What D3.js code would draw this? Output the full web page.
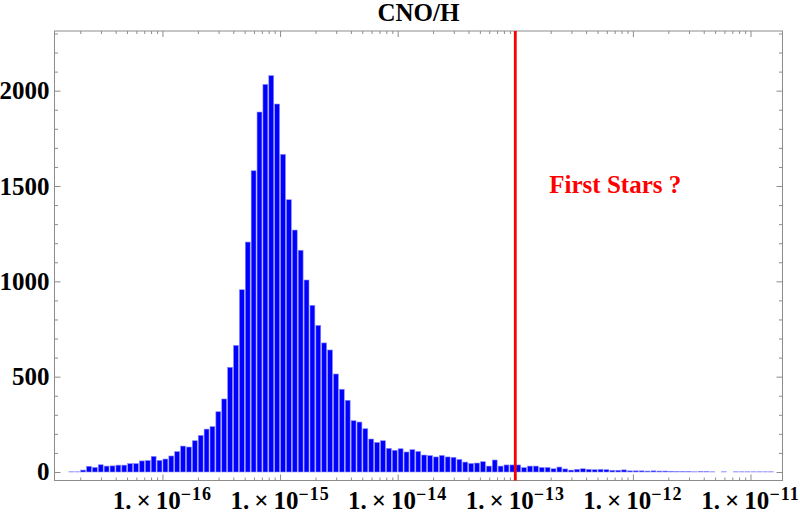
<!DOCTYPE html>
<html lang="en">
<head>
  <meta charset="UTF-8">
  <title>CNO/H</title>
  <script src="https://d3js.org/d3.v7.min.js"></script>
  <style>
    body {
      margin: 0;
      background: white;
    }
    svg text {
      font-family: "Liberation Serif", "Times New Roman", serif;
      font-weight: bold;
    }
    .axis path.domain {
      display: none;
    }
    .axis line {
      stroke: #8c8c8c;
    }
  </style>
</head>
<body>
  <div id="chart"></div>

  <script>
    // histogram bins: log10 of the left edge of the first bin, and the bin width (in decades)
    const binStartExp = -16.8;
    const binWidthExp = 0.05;

    // counts per bin
    const counts = [
      1, 1, 10, 30, 24, 38, 31, 32, 36, 36,
      44, 44, 58, 60, 82, 61, 68, 84, 107, 136,
      131, 164, 192, 225, 238, 316, 383, 549, 664, 956,
      1206, 1580, 1888, 2033, 2079, 1930, 1666, 1428, 1269, 1163,
      1007, 874, 769, 677, 640, 514, 434, 376, 269, 262,
      227, 173, 155, 164, 124, 114, 122, 105, 117, 108,
      89, 86, 79, 87, 79, 77, 66, 52, 45, 47,
      54, 31, 63, 31, 37, 37, 37, 23, 31, 31,
      24, 24, 17, 26, 16, 10, 14, 17, 14, 12,
      14, 12, 9, 9, 11, 6, 6, 6, 5, 6,
      5, 5, 4, 3, 3, 3, 1, 2, 2, 1,
      0, 1, 0, 1, 1, 1, 1, 1, 1, 1
    ];

    const xTickExps = [-16, -15, -14, -13, -12, -11];
    const yTicks = [0, 500, 1000, 1500, 2000];
    const firstStarsLimit = 1e-13;
    const titleText = "CNO/H";
    const noteText = "First Stars ?";

    const width = 800, height = 516;
    const plotLeft = 54.5, plotRight = 782.5, plotTop = 31, plotBottom = 480.5;

    const svg = d3.select("#chart").append("svg")
        .attr("width", width)
        .attr("height", height);

    const x = d3.scaleLog()
        .domain([Math.pow(10, -16.918), Math.pow(10, -10.728)])
        .range([plotLeft, plotRight]);

    const y = d3.scaleLinear()
        .domain([-44.6, 2313])
        .range([plotBottom, plotTop]);

    const bins = counts.map((c, i) => ({
      x0: Math.pow(10, binStartExp + i * binWidthExp),
      x1: Math.pow(10, binStartExp + (i + 1) * binWidthExp),
      count: c
    }));

    // bars
    svg.append("g")
      .selectAll("rect")
      .data(bins)
      .join("rect")
        .attr("x", d => x(d.x0) + 0.5)
        .attr("width", d => x(d.x1) - x(d.x0) - 1)
        .attr("y", d => y(d.count))
        .attr("height", d => y(0) - y(d.count))
        .attr("fill", "#0000ff")
        .attr("stroke", "#8a8aff")
        .attr("stroke-width", 0.6);

    // frame
    svg.append("rect")
      .attr("x", plotLeft)
      .attr("y", plotTop)
      .attr("width", plotRight - plotLeft)
      .attr("height", plotBottom - plotTop)
      .attr("fill", "none")
      .attr("stroke", "#8c8c8c")
      .attr("stroke-width", 1);

    // ticks (inside the frame, all four sides)
    const majorX = xTickExps.map(e => Math.pow(10, e));
    const minorX = [];
    for (let e = -17; e <= -11; e++) {
      for (let m = 2; m <= 9; m++) {
        const v = m * Math.pow(10, e);
        if (v > x.domain()[0] && v < x.domain()[1]) minorX.push(v);
      }
    }
    const minorY = d3.range(100, 2400, 100).filter(v => v % 500 !== 0);

    svg.append("g").attr("class", "axis")
      .attr("transform", `translate(0,${plotBottom})`)
      .call(d3.axisBottom(x).tickValues(majorX).tickSize(-6).tickFormat(""));
    svg.append("g").attr("class", "axis")
      .attr("transform", `translate(0,${plotBottom})`)
      .call(d3.axisBottom(x).tickValues(minorX).tickSize(-3).tickFormat(""));
    svg.append("g").attr("class", "axis")
      .attr("transform", `translate(0,${plotTop})`)
      .call(d3.axisTop(x).tickValues(majorX).tickSize(-6).tickFormat(""));
    svg.append("g").attr("class", "axis")
      .attr("transform", `translate(0,${plotTop})`)
      .call(d3.axisTop(x).tickValues(minorX).tickSize(-3).tickFormat(""));

    svg.append("g").attr("class", "axis")
      .attr("transform", `translate(${plotLeft},0)`)
      .call(d3.axisLeft(y).tickValues(yTicks).tickSize(-6).tickPadding(5).tickFormat(d3.format("d")))
      .selectAll("text")
        .attr("fill", "black")
        .attr("font-size", 25)
        .style("font-family", "'Liberation Serif', 'Times New Roman', serif")
        .style("font-weight", "bold");
    svg.append("g").attr("class", "axis")
      .attr("transform", `translate(${plotLeft},0)`)
      .call(d3.axisLeft(y).tickValues(minorY).tickSize(-3.5).tickFormat(""));
    svg.append("g").attr("class", "axis")
      .attr("transform", `translate(${plotRight},0)`)
      .call(d3.axisRight(y).tickValues(yTicks).tickSize(-6).tickFormat(""));
    svg.append("g").attr("class", "axis")
      .attr("transform", `translate(${plotRight},0)`)
      .call(d3.axisRight(y).tickValues(minorY).tickSize(-3.5).tickFormat(""));

    // x tick labels: 1.×10^e
    const xLabels = svg.append("g")
      .selectAll("text")
      .data(xTickExps)
      .join("text")
        .attr("x", e => x(Math.pow(10, e)))
        .attr("y", 508.5)
        .attr("text-anchor", "middle")
        .attr("font-size", 25);
    xLabels.append("tspan").text("1.\u2009\u00d7\u200910");
    xLabels.append("tspan")
      .attr("dy", -9)
      .attr("font-size", 18)
      .attr("letter-spacing", 1)
      .text(e => "\u2212" + Math.abs(e));

    // first-stars marker
    svg.append("line")
      .attr("x1", x(firstStarsLimit))
      .attr("x2", x(firstStarsLimit))
      .attr("y1", plotTop)
      .attr("y2", plotBottom)
      .attr("stroke", "#ff0000")
      .attr("stroke-width", 2.8);

    svg.append("text")
      .attr("x", x(firstStarsLimit) + 34)
      .attr("y", 192.5)
      .attr("fill", "#ff0000")
      .attr("font-size", 25)
      .text(noteText);

    // title
    svg.append("text")
      .attr("x", (plotLeft + plotRight) / 2)
      .attr("y", 20.5)
      .attr("text-anchor", "middle")
      .attr("font-size", 25)
      .text(titleText);
  </script>
</body>
</html>
